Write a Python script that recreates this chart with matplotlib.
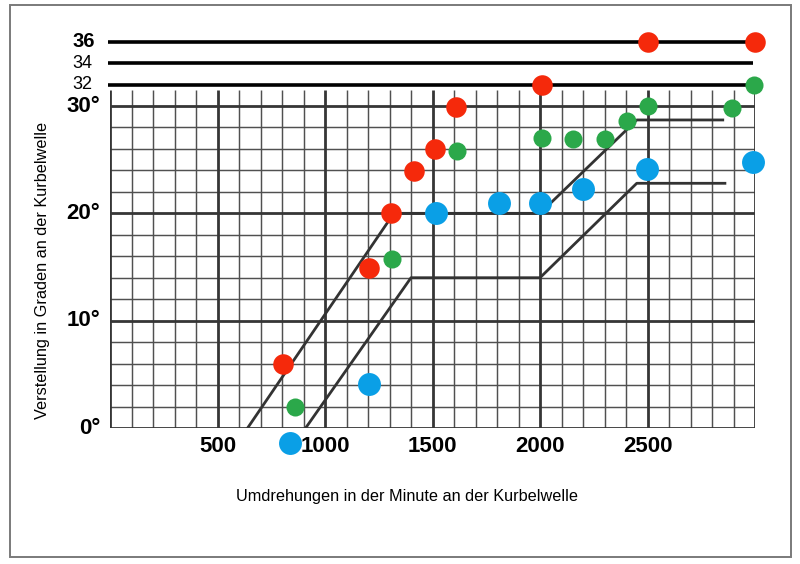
import matplotlib
matplotlib.use("Agg")
import matplotlib.pyplot as plt
from matplotlib.patches import Rectangle
import numpy as np

plt.rcParams['font.family'] = ['Liberation Sans', 'DejaVu Sans']

# ---- data ----
red_rpm = [805, 1205, 1307, 1414, 1512, 1609, 2010, 2500, 3000]
red_deg = [6.0, 14.9, 20.0, 23.9, 26.0, 29.9, 32.0, 36.0, 36.0]

green_rpm = [860, 1311, 1613, 2009, 2153, 2302, 2404, 2502, 2893, 2995]
green_deg = [2.0, 15.7, 25.8, 27.0, 26.9, 26.9, 28.6, 30.0, 29.8, 32.0]

blue_rpm = [837, 1205, 1516, 1809, 2000, 2200, 2497, 2991]
blue_deg = [-1.4, 4.1, 20.0, 21.0, 21.0, 22.3, 24.1, 24.8]

upper_rpm = [640, 1320, 2000, 2450, 2850]
upper_deg = [0, 20, 20, 28.7, 28.7]
lower_rpm = [910, 1400, 2000, 2450, 2860]
lower_deg = [0, 14, 14, 22.8, 22.8]

extra_levels = [32, 34, 36]
extra_labels = ["32", "34", "36"]

x_ticks = [500, 1000, 1500, 2000, 2500]
x_ticklabels = ["500", "1000", "1500", "2000", "2500"]
y_ticks = [0, 10, 20, 30]
y_ticklabels = ["0°", "10°", "20°", "30°"]

xlabel = "Umdrehungen in der Minute an der Kurbelwelle"
ylabel = "Verstellung in Graden an der Kurbelwelle"

# ---- figure ----
fig = plt.figure(figsize=(8, 5.64), dpi=100)
ax = fig.add_axes([110/800, (564-428)/564, 645/800, 37*10.733/564])
ax.set_xlim(0, 3000)
ax.set_ylim(0, 37)
ax.axis('off')

# page frame
fig.patches.append(Rectangle((10/800, 7/564), 781/800, 552/564, transform=fig.transFigure,
                             fill=False, edgecolor='#7a7a7a', lw=1.4))

XMAX, YTOP = 3000, 31.5
minor_c, major_c = '#505050', '#363636'
# minor grid
for xv in np.arange(100, 3000, 100):
    if xv % 500:
        ax.plot([xv, xv], [0, YTOP], color=minor_c, lw=1.05, solid_capstyle='butt', zorder=1)
for yv in np.arange(2, 31, 2):
    if yv % 10:
        ax.plot([0, XMAX], [yv, yv], color=minor_c, lw=1.05, solid_capstyle='butt', zorder=1)
# major grid
for xv in [0, 500, 1000, 1500, 2000, 2500, 3000]:
    ax.plot([xv, xv], [0, YTOP], color=major_c, lw=2.0, solid_capstyle='butt', zorder=2)
for yv in [0, 10, 20, 30]:
    ax.plot([0, XMAX], [yv, yv], color=major_c, lw=2.0, solid_capstyle='butt', zorder=2)

# top reference lines
for lvl in extra_levels:
    ax.plot([-10, 2990], [lvl, lvl], color='black', lw=2.6, solid_capstyle='butt', zorder=3, clip_on=False)

# curves
ax.plot(upper_rpm, upper_deg, color='#333333', lw=2.0, zorder=3)
ax.plot(lower_rpm, lower_deg, color='#333333', lw=2.0, zorder=3)

# dots
ax.plot(red_rpm, red_deg, 'o', color='#f5290b', ms=14.8, mew=0, zorder=5, clip_on=False)
ax.plot(green_rpm, green_deg, 'o', color='#2ba84a', ms=13.0, mew=0, zorder=5, clip_on=False)
ax.plot(blue_rpm, blue_deg, 'o', color='#0a9fe6', ms=16.5, mew=0, zorder=5, clip_on=False)

# tick labels
for yv, lab in zip(y_ticks, y_ticklabels):
    ax.annotate(lab, xy=(0, yv), xytext=(-7, 0), textcoords='offset points',
                ha='right', va='center', fontsize=16, fontweight='bold', annotation_clip=False)
for lvl, lab in zip(extra_levels, extra_labels):
    bold = lab == "36"
    ax.annotate(lab, xy=(0, lvl), xytext=(-10.5 if bold else -12.5, 0), textcoords='offset points',
                ha='right', va='center', fontsize=14.5 if bold else 13,
                fontweight='bold' if bold else 'normal', annotation_clip=False)
for xv, lab in zip(x_ticks, x_ticklabels):
    ax.annotate(lab, xy=(xv, 0), xytext=(0, -13.5), textcoords='offset points',
                ha='center', va='center', fontsize=16, fontweight='bold', annotation_clip=False)

fig.text(407/800, 1 - 496/564, xlabel, ha='center', va='center', fontsize=11.7)
fig.text(43/800, 1 - 270/564, ylabel, ha='center', va='center', rotation=90, fontsize=11.7)

fig.savefig('out.png', dpi=100)
